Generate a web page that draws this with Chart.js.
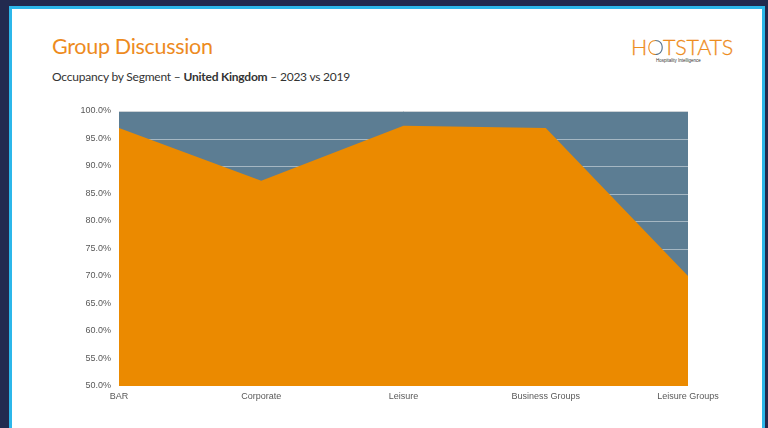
<!DOCTYPE html>
<html>
<head>
<meta charset="utf-8">
<script src="https://cdn.jsdelivr.net/npm/chart.js@4/dist/chart.umd.min.js"></script>
<style>
  html, body { margin:0; padding:0; width:768px; height:428px; overflow:hidden; background:#222a4f; }
  #slide { position:absolute; left:9px; top:6px; width:750px; height:440px; background:#fff; border:3px solid #2cb7ea; }
  .t { position:absolute; white-space:nowrap; line-height:1; }
  #title { left:52px; top:35.5px; font-family:Lato, sans-serif; font-size:21.5px; letter-spacing:-0.3px; color:#ed8b1e; }
  #sub { left:52px; top:71px; font-family:Lato, sans-serif; font-size:12px; letter-spacing:-0.22px; color:#333; }
  #logo { left:631px; top:36.5px; font-family:Lato, sans-serif; font-weight:300; font-size:21.5px; letter-spacing:-0.2px; color:#ee8d1f; -webkit-text-stroke:0.3px #ee8d1f; }
  #logo .o { background:linear-gradient(90deg,#ee8d1f 0%,#ee8d1f 45%,#4e6f8c 60%,#4e6f8c 100%); -webkit-background-clip:text; background-clip:text; color:transparent; -webkit-text-stroke:0; }
  #tag { left:656px; top:59px; font-family:"Liberation Sans", Arial, sans-serif; font-size:4.5px; color:#333; }
  #wrap { position:absolute; left:0; top:0; width:768px; height:428px; }
</style>
</head>
<body>
<div id="slide"></div>
<div class="t" id="title">Group Discussion</div>
<div class="t" id="sub">Occupancy by Segment – <b>United Kingdom</b> – 2023 vs 2019</div>
<div class="t" id="logo">H<span class="o">O</span>TSTATS</div>
<div class="t" id="tag">Hospitality Intelligence</div>
<div id="wrap"><canvas id="c"></canvas></div>
<script>
const categories = ['BAR', 'Corporate', 'Leisure', 'Business Groups', 'Leisure Groups'];
const occupancy2019 = [100, 100, 100, 100, 100];
const occupancy2023 = [96.9, 87.3, 97.3, 96.9, 70.0];
const yMin = 50, yMax = 100, yStep = 5;

const gridUnder = {
  id: 'gridUnder',
  afterDatasetDraw(chart, args) {
    if (args.index !== 0) return;
    const { ctx, chartArea, scales: { y } } = chart;
    ctx.save();
    ctx.lineWidth = 1;
    y.ticks.forEach(t => {
      const py = Math.round(y.getPixelForValue(t.value)) + 0.5;
      ctx.strokeStyle = t.value === yMax ? '#cdd2d6' : 'rgba(255,255,255,0.45)';
      ctx.beginPath();
      ctx.moveTo(chartArea.left, py);
      ctx.lineTo(chartArea.right, py);
      ctx.stroke();
    });
    ctx.restore();
  }
};

new Chart(document.getElementById('c'), {
  type: 'line',
  data: {
    labels: categories,
    datasets: [
      { label: '2019', data: occupancy2019, backgroundColor: '#5c7d93', borderWidth: 0, pointRadius: 0, fill: 'start', tension: 0, order: 1 },
      { label: '2023', data: occupancy2023, backgroundColor: '#eb8a00', borderWidth: 0, pointRadius: 0, fill: 'start', tension: 0, order: 0 }
    ]
  },
  options: {
    responsive: true,
    maintainAspectRatio: false,
    animation: false,
    layout: { padding: { left: 60, right: 80, top: 111, bottom: 22 } },
    plugins: { legend: { display: false }, tooltip: { enabled: false } },
    scales: {
      x: {
        grid: { display: false, drawTicks: false },
        border: { display: false },
        ticks: { color: '#595959', font: { family: '"Liberation Sans", Arial, sans-serif', size: 9 }, padding: 5, maxRotation: 0, autoSkip: false },
        afterFit(s) { s.height = 20; }
      },
      y: {
        min: yMin, max: yMax,
        grid: { display: false, drawTicks: false },
        border: { display: false },
        ticks: { stepSize: yStep, color: '#595959', font: { family: '"Liberation Sans", Arial, sans-serif', size: 9 }, padding: 8,
          callback: v => v.toFixed(1) + '%' },
        afterFit(s) { s.width = 59; }
      }
    }
  },
  plugins: [gridUnder]
});
</script>
</body>
</html>
